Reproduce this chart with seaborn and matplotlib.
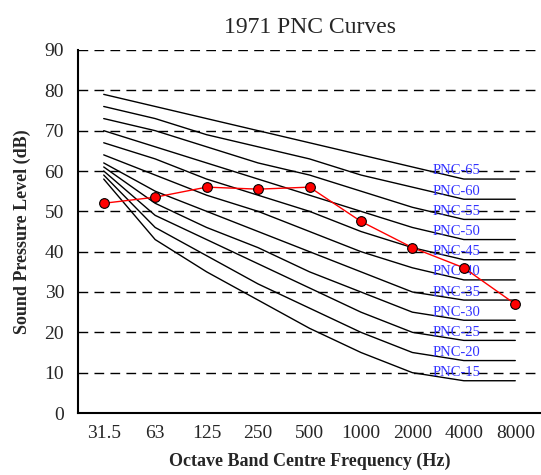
import matplotlib
matplotlib.use("Agg")
import matplotlib.pyplot as plt
import seaborn as sns
import pandas as pd
import numpy as np

freqs = ["31.5", "63", "125", "250", "500", "1000", "2000", "4000", "8000"]
pnc15 = [58, 43, 35, 28, 21, 15, 10, 8, 8]
pnc20 = [59, 46, 39, 32, 26, 20, 15, 13, 13]
pnc25 = [60, 49, 43, 37, 31, 25, 20, 18, 18]
pnc30 = [61, 52, 46, 41, 35, 30, 25, 23, 23]
pnc35 = [62, 55, 50, 45, 40, 35, 30, 28, 28]
pnc40 = [64, 59, 54, 50, 45, 40, 36, 33, 33]
pnc45 = [67, 63, 58, 54, 50, 45, 41, 38, 38]
pnc50 = [70, 66, 62, 58, 54, 50, 46, 43, 43]
pnc55 = [73, 70, 66, 62, 59, 55, 51, 48, 48]
pnc60 = [76, 73, 69, 66, 63, 59, 56, 53, 53]
pnc65 = [79, 76, 73, 70, 67, 64, 61, 58, 58]
measured = [52, 53.5, 56, 55.5, 56, 47.5, 41, 36, 27]

curves = {
    "PNC-15": pnc15, "PNC-20": pnc20, "PNC-25": pnc25, "PNC-30": pnc30,
    "PNC-35": pnc35, "PNC-40": pnc40, "PNC-45": pnc45, "PNC-50": pnc50,
    "PNC-55": pnc55, "PNC-60": pnc60, "PNC-65": pnc65,
}

sns.set_theme(style="white")
plt.rcParams["font.family"] = ["Liberation Serif", "DejaVu Serif"]

fig = plt.figure(figsize=(5.41, 4.75), dpi=100)
ax = fig.add_axes([78 / 541, 1 - 413 / 475, 1 - 78 / 541, (413 - 50) / 475])

pos = np.arange(len(freqs))
rows = []
for name, vals in curves.items():
    for p, v in zip(pos, vals):
        rows.append({"pos": p, "level": v, "curve": name})
df = pd.DataFrame(rows)

# gridlines
for yv in range(10, 100, 10):
    ax.axhline(yv, color="black", lw=1.0, ls=(0, (7, 4.5)), zorder=1)

sns.lineplot(data=df, x="pos", y="level", units="curve", estimator=None,
             color="black", lw=1.0, ax=ax, zorder=2)

for name, vals in curves.items():
    ax.text(6.85, vals[-1] + 2, name, color="#3333ff", fontsize=10.5,
            ha="center", va="center", zorder=3)

mdf = pd.DataFrame({"pos": pos, "level": measured})
sns.lineplot(data=mdf, x="pos", y="level", color="red", lw=1.0, marker="o",
             markersize=7, markerfacecolor="red", markeredgecolor="black",
             markeredgewidth=0.8, ax=ax, zorder=4)

ax.set_xlim(-0.5, 8.5)
ax.set_ylim(0, 90)
ax.set_xticks(pos)
ax.set_xticklabels(freqs, fontsize=14)
ax.set_xticks(np.arange(0.5, 8.0, 1.0), minor=True)
ax.tick_params(axis="x", which="major", length=0, pad=9)
ax.tick_params(axis="x", which="minor", length=5, direction="in", width=1, color="black")
ax.set_yticks(range(0, 100, 10))
ax.set_yticklabels([str(v) for v in range(0, 100, 10)], fontsize=14)
ax.tick_params(axis="y", length=0, pad=10)

for s in ["top", "right"]:
    ax.spines[s].set_visible(False)
for s in ["left", "bottom"]:
    ax.spines[s].set_color("black")
    ax.spines[s].set_linewidth(1.5)

ax.set_xlabel("Octave Band Centre Frequency (Hz)", fontsize=13, fontweight="bold", labelpad=7)
ax.set_ylabel("Sound Pressure Level (dB)", fontsize=13, fontweight="bold", labelpad=10)
ax.set_title("1971 PNC Curves", fontsize=17, pad=12)

fig.savefig("out.png", dpi=100)
